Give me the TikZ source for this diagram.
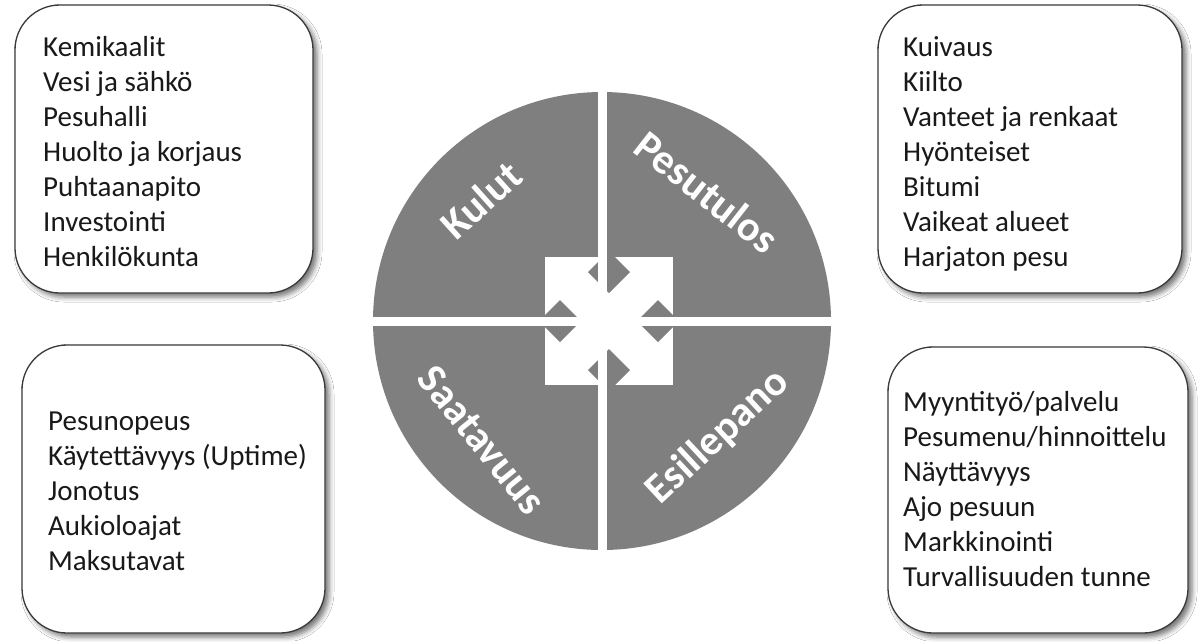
\documentclass[tikz,border=0pt]{standalone}
\usepackage{fontspec}
\setmainfont{Carlito}
\usetikzlibrary{shadows.blur}
\definecolor{quadgray}{HTML}{7F7F7F}
\definecolor{boxline}{HTML}{3A3A3A}
\tikzset{
  infobox/.style={draw=boxline, line width=1.3pt, fill=white, rounded corners=45pt,
    rectangle, inner sep=0pt,
    blur shadow={shadow xshift=4pt, shadow yshift=-4pt, shadow blur radius=5pt, shadow opacity=55}},
  boxtext/.style={anchor=west, align=left, inner sep=0pt, text=black!90,
    font=\fontsize{29}{35}\selectfont},
  quadlabel/.style={text=white, inner sep=0pt, font=\fontsize{42}{50}\selectfont\bfseries},
  strip/.style={fill=white, draw=none},
  arrowhead/.style={fill=quadgray, draw=none}
}
\begin{document}
\begin{tikzpicture}[x=1pt,y=-1pt]
\useasboundingbox (0,0) rectangle (1202,641);
\fill[white] (0,0) rectangle (1202,641);

% boxes
\node[infobox, minimum width=298pt, minimum height=288pt] (b1) at (164,149) {};
\node[infobox, minimum width=304pt, minimum height=288pt] (b2) at (1030,149) {};
\node[infobox, minimum width=303pt, minimum height=288pt] (b3) at (173.5,489) {};
\node[infobox, minimum width=300pt, minimum height=286pt] (b4) at (1038,490) {};

\node[boxtext] (t1) at (43,152) {Kemikaalit\\Vesi ja sähkö\\Pesuhalli\\Huolto ja korjaus\\Puhtaanapito\\Investointi\\Henkilökunta};
\node[boxtext] (t2) at (903,154) {Kuivaus\\Kiilto\\Vanteet ja renkaat\\Hyönteiset\\Bitumi\\Vaikeat alueet\\Harjaton pesu};
\node[boxtext] (t3) at (48,491) {Pesunopeus\\Käytettävyys (Uptime)\\Jonotus\\Aukioloajat\\Maksutavat};
\node[boxtext] (t4) at (903,489) {Myyntityö/palvelu\\Pesumenu/hinnoittelu\\Näyttävyys\\Ajo pesuun\\Markkinointi\\Turvallisuuden tunne};

% circle
\fill[quadgray] (602,321) circle[radius=229];
\coordinate (c) at (602,321);

% central arrow square
\fill[white] (545,257) rectangle (673,385);
\fill[arrowhead] (609,251) -- (630,272) -- (609,293) -- (588,272) -- cycle;
\fill[arrowhead] (609,349) -- (630,370) -- (609,391) -- (588,370) -- cycle;
\fill[arrowhead] (539,321) -- (560,300) -- (581,321) -- (560,342) -- cycle;
\fill[arrowhead] (637,321) -- (658,300) -- (679,321) -- (658,342) -- cycle;

% dividing strips
\fill[strip] (598,90) rectangle (607,552);
\fill[strip] (371,317) rectangle (834,326);

% labels
\node[quadlabel, rotate=42] (l1) at (481,200) {Kulut};
\node[quadlabel, rotate=-38] (l2) at (707,192) {Pesutulos};
\node[quadlabel, rotate=-51] (l3) at (482,440) {Saatavuus};
\node[quadlabel, rotate=43] (l4) at (718,437) {Esillepano};
\end{tikzpicture}
\end{document}
